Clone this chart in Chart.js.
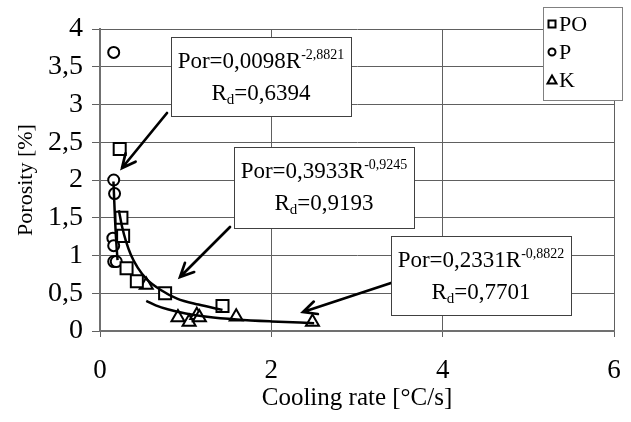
<!DOCTYPE html>
<html lang="en">
<head>
<meta charset="UTF-8">
<title>Porosity vs cooling rate</title>
<script src="https://cdn.jsdelivr.net/npm/chart.js"></script>
<style>
  body { margin: 0; background: #fff; }
  #chart { display: block; }
</style>
</head>
<body>
<canvas id="chart" width="631" height="422"></canvas>
<script>
    // measured points, cooling rate [°C/s] vs porosity [%]
    const poX = [0.23, 0.25, 0.27, 0.31, 0.43, 0.76, 1.43];
    const poY = [2.41, 1.50, 1.26, 0.83, 0.66, 0.50, 0.33];
    const pX = [0.16, 0.16, 0.17, 0.15, 0.16, 0.16, 0.19];
    const pY = [3.69, 2.00, 1.82, 1.23, 1.13, 0.92, 0.92];
    const kX = [0.54, 0.91, 1.04, 1.13, 1.16, 1.59, 2.48];
    const kY = [0.61, 0.18, 0.12, 0.21, 0.18, 0.19, 0.12];

    // trend lines
    const poFitX = [0.22, 0.26, 0.30, 0.36, 0.44, 0.55, 0.70, 0.90, 1.15, 1.43];
    const poFitY = [1.60, 1.37, 1.20, 1.01, 0.84, 0.68, 0.55, 0.43, 0.35, 0.28];
    const pFitX = [0.157, 0.165, 0.175, 0.185, 0.195, 0.205];
    const pFitY = [1.98, 1.76, 1.49, 1.27, 1.09, 0.94];
    const kFitX = [0.54, 0.65, 0.80, 1.00, 1.25, 1.60, 2.00, 2.50];
    const kFitY = [0.40, 0.34, 0.285, 0.233, 0.19, 0.153, 0.127, 0.104];

    const seriesNames = ['PO', 'P', 'K'];
    const xTickLabels = ['0', '2', '4', '6'];
    const yTickLabels = ['0', '0,5', '1', '1,5', '2', '2,5', '3', '3,5', '4'];

    // fit labels
    const fitCoef = ['0,0098', '0,3933', '0,2331'];
    const fitExp = ['-2,8821', '-0,9245', '-0,8822'];
    const fitRd = ['0,6394', '0,9193', '0,7701'];

    const FONT = 'Liberation Serif';
    const pts = (xs, ys) => xs.map((x, i) => ({ x: x, y: ys[i] }));

    function markerSet(label, xs, ys, style, r) {
        return {
            type: 'scatter',
            label: label,
            data: pts(xs, ys),
            pointStyle: style,
            pointRadius: r,
            pointHoverRadius: r,
            pointBorderWidth: 2,
            pointBorderColor: '#000',
            pointBackgroundColor: '#fff',
            order: 2
        };
    }

    function fitSet(xs, ys) {
        return {
            type: 'line',
            label: '',
            data: pts(xs, ys),
            borderColor: '#000',
            borderWidth: 2.5,
            pointRadius: 0,
            cubicInterpolationMode: 'monotone',
            fill: false,
            order: 1
        };
    }

    // text boxes + arrows (pixel layout)
    const boxes = [
        { x: 171, y: 37, w: 180, h: 79 },
        { x: 234, y: 147, w: 180, h: 81 },
        { x: 391, y: 236, w: 180, h: 79 }
    ];
    const arrows = [
        [167, 113, 122, 168],
        [230, 227, 180, 277],
        [391, 283, 303, 312]
    ];

    function drawArrow(ctx, x1, y1, x2, y2) {
        const a = Math.atan2(y2 - y1, x2 - x1);
        const len = 15, spread = 0.45;
        ctx.beginPath();
        ctx.moveTo(x1, y1);
        ctx.lineTo(x2, y2);
        ctx.moveTo(x2 - len * Math.cos(a - spread), y2 - len * Math.sin(a - spread));
        ctx.lineTo(x2, y2);
        ctx.lineTo(x2 - len * Math.cos(a + spread), y2 - len * Math.sin(a + spread));
        ctx.stroke();
    }

    const notesPlugin = {
        id: 'notes',
        afterDatasetsDraw(chart) {
            const ctx = chart.ctx;
            ctx.save();
            ctx.strokeStyle = '#000';
            ctx.lineWidth = 2.7;
            ctx.lineCap = 'round';
            arrows.forEach(a => drawArrow(ctx, a[0], a[1], a[2], a[3]));

            boxes.forEach((b, i) => {
                ctx.fillStyle = '#fff';
                ctx.fillRect(b.x, b.y, b.w, b.h);
                ctx.lineWidth = 1;
                ctx.strokeStyle = '#404040';
                ctx.strokeRect(b.x + 0.5, b.y + 0.5, b.w, b.h);

                ctx.fillStyle = '#000';
                ctx.textBaseline = 'alphabetic';
                ctx.textAlign = 'left';
                const cx = b.x + b.w / 2;

                // line 1: Por=aR^b
                const main = 'Por=' + fitCoef[i] + 'R';
                ctx.font = '23px "' + FONT + '"';
                const wMain = ctx.measureText(main).width;
                ctx.font = '14px "' + FONT + '"';
                const wSup = ctx.measureText(fitExp[i]).width;
                let x0 = cx - (wMain + wSup) / 2;
                const base1 = b.y + 31;
                ctx.font = '23px "' + FONT + '"';
                ctx.fillText(main, x0, base1);
                ctx.font = '14px "' + FONT + '"';
                ctx.fillText(fitExp[i], x0 + wMain, base1 - 9);

                // line 2: R_d=..
                const rest = '=' + fitRd[i];
                ctx.font = '23px "' + FONT + '"';
                const wR = ctx.measureText('R').width;
                const wRest = ctx.measureText(rest).width;
                ctx.font = '15px "' + FONT + '"';
                const wD = ctx.measureText('d').width;
                x0 = cx - (wR + wD + wRest) / 2;
                const base2 = b.y + 63;
                ctx.font = '23px "' + FONT + '"';
                ctx.fillText('R', x0, base2);
                ctx.fillText(rest, x0 + wR + wD, base2);
                ctx.font = '15px "' + FONT + '"';
                ctx.fillText('d', x0 + wR, base2 + 4);
            });
            ctx.restore();
        },
        afterDraw(chart) {
            // legend box
            const ctx = chart.ctx;
            const lx = 543, ly = 7, lw = 79, lh = 93;
            ctx.save();
            ctx.fillStyle = '#fff';
            ctx.fillRect(lx, ly, lw, lh);
            ctx.strokeStyle = '#808080';
            ctx.lineWidth = 1;
            ctx.strokeRect(lx + 0.5, ly + 0.5, lw, lh);

            const styles = ['rect', 'circle', 'triangle'];
            ctx.font = '22px "' + FONT + '"';
            ctx.textBaseline = 'middle';
            ctx.textAlign = 'left';
            seriesNames.forEach((name, i) => {
                const my = ly + 17 + i * 28;
                const mx = lx + 9;
                ctx.strokeStyle = '#000';
                ctx.lineWidth = 2;
                ctx.beginPath();
                if (styles[i] === 'rect') {
                    ctx.rect(mx - 3.5, my - 3.5, 7, 7);
                } else if (styles[i] === 'circle') {
                    ctx.arc(mx, my, 3.5, 0, Math.PI * 2);
                } else {
                    ctx.moveTo(mx, my - 4.5);
                    ctx.lineTo(mx + 4.5, my + 3.5);
                    ctx.lineTo(mx - 4.5, my + 3.5);
                    ctx.closePath();
                }
                ctx.stroke();
                ctx.fillStyle = '#000';
                ctx.fillText(name, lx + 16, my + 1);
            });
            ctx.restore();
        }
    };

    Chart.defaults.color = '#000';
    Chart.defaults.font.family = FONT;

    new Chart(document.getElementById('chart'), {
        type: 'scatter',
        data: {
            datasets: [
                markerSet(seriesNames[0], poX, poY, 'rect', 8.5),
                markerSet(seriesNames[1], pX, pY, 'circle', 5.5),
                markerSet(seriesNames[2], kX, kY, 'triangle', 7.5),
                fitSet(poFitX, poFitY),
                fitSet(pFitX, pFitY),
                fitSet(kFitX, kFitY)
            ]
        },
        options: {
            responsive: false,
            animation: false,
            layout: { padding: { left: 0, top: 29, right: 17, bottom: 0 } },
            plugins: {
                legend: { display: false },
                tooltip: { enabled: false }
            },
            scales: {
                x: {
                    type: 'linear',
                    min: 0,
                    max: 6,
                    afterFit: s => { s.height = 91; s.paddingLeft = 0; s.paddingRight = 0; },
                    ticks: {
                        stepSize: 2,
                        padding: 18,
                        font: { size: 27 },
                        callback: (v, i) => xTickLabels[i]
                    },
                    grid: { color: '#606060', lineWidth: 1, tickLength: 6 },
                    border: { color: '#707070', width: 2 },
                    title: {
                        display: true,
                        text: 'Cooling rate [°C/s]',
                        font: { size: 25 },
                        padding: { top: 0, bottom: 9 }
                    }
                },
                y: {
                    min: 0,
                    max: 4,
                    afterFit: s => { s.width = 100; s.paddingTop = 0; s.paddingBottom = 0; },
                    ticks: {
                        stepSize: 0.5,
                        padding: 9,
                        font: { size: 28 },
                        callback: (v, i) => yTickLabels[i]
                    },
                    grid: { color: '#606060', lineWidth: 1, tickLength: 8 },
                    border: { color: '#707070', width: 2 },
                    title: {
                        display: true,
                        text: 'Porosity [%]',
                        font: { size: 22 },
                        padding: { top: 13, bottom: 0 }
                    }
                }
            }
        },
        plugins: [notesPlugin]
    });
</script>
</body>
</html>
